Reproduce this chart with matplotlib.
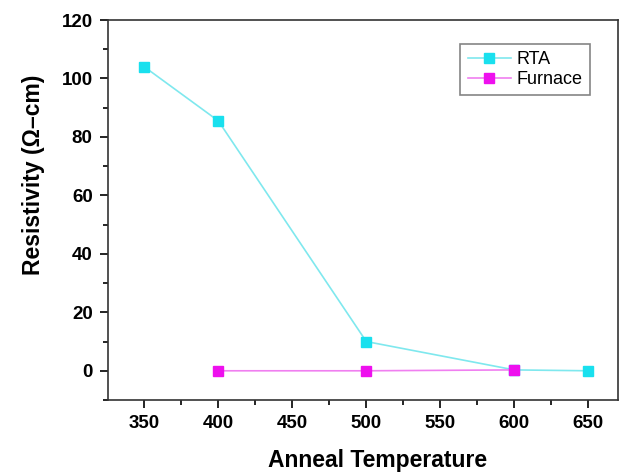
import matplotlib
matplotlib.use("Agg")
import matplotlib.pyplot as plt
from matplotlib.ticker import MultipleLocator

rta_x = [350, 400, 500, 600, 650]
rta_y = [104, 85.5, 10, 0.3, 0]
furn_x = [400, 500, 600]
furn_y = [0, 0, 0.3]

plt.rcParams['font.family'] = ['Liberation Sans', 'DejaVu Sans']

fig = plt.figure(figsize=(6.29, 4.73), dpi=100)
ax = fig.add_axes([0.1717, 0.1543, 0.8108, 0.8034])

ax.plot(rta_x, rta_y, color='#7fe8ee', lw=1.2, marker='s', ms=6.5,
        mfc='#19e0ee', mec='#19e0ee', label='RTA')
ax.plot(furn_x, furn_y, color='#f07ff0', lw=1.2, marker='s', ms=6.5,
        mfc='#ee10ee', mec='#ee10ee', label='Furnace')

ax.set_xlim(325.5, 670)
ax.set_ylim(-10, 120)
ax.xaxis.set_major_locator(MultipleLocator(50))
ax.xaxis.set_minor_locator(MultipleLocator(25))
ax.yaxis.set_major_locator(MultipleLocator(20))
ax.yaxis.set_minor_locator(MultipleLocator(10))
ax.tick_params(axis='both', which='major', direction='out', length=6, width=1.2,
               labelsize=13.5, pad=5)
ax.tick_params(axis='both', which='minor', direction='out', length=3.5, width=1.2)
for lab in ax.get_xticklabels() + ax.get_yticklabels():
    lab.set_fontweight('bold')
for s in ax.spines.values():
    s.set_linewidth(1.2)
    s.set_color('#333333')

ax.set_xlabel('Anneal Temperature', fontsize=16.5, fontweight='bold', labelpad=12)
ax.set_ylabel('Resistivity (Ω–cm)', fontsize=16.5, fontweight='bold', labelpad=12)
ax.xaxis.label.set_x(0.529)
ax.yaxis.label.set_y(0.592)

leg = ax.legend(loc='upper right', bbox_to_anchor=(0.962, 0.96), fontsize=13,
                frameon=True, fancybox=False, edgecolor='#666666',
                handlelength=2.4, handletextpad=0.3, borderpad=0.4, labelspacing=0.15)
leg.get_frame().set_linewidth(1.2)

fig.savefig('out.png', dpi=100)
